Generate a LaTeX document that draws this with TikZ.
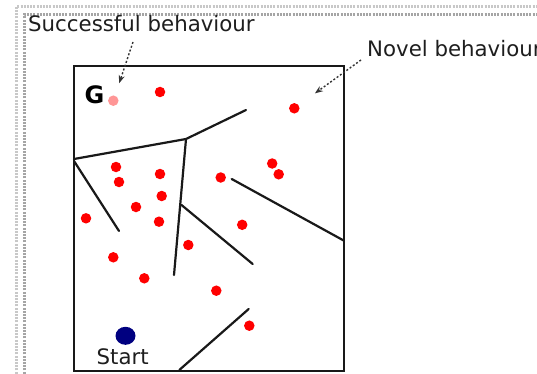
\documentclass[tikz,border=0pt]{standalone}
\usepackage{fontspec}
\setmainfont{DejaVu Sans}
\usetikzlibrary{arrows.meta,shapes.geometric}
\definecolor{dotred}{RGB}{255,0,0}
\definecolor{goalpink}{RGB}{255,150,150}
\definecolor{startblue}{RGB}{0,0,128}
\definecolor{textgray}{RGB}{30,30,30}
\definecolor{frameA}{RGB}{200,200,200}
\definecolor{frameB}{RGB}{165,165,165}
\tikzset{
  wall/.style={line width=2.2pt, black!90, line cap=round},
  reddot/.style={circle, fill=dotred, inner sep=0pt, minimum size=10.5pt},
  goaldot/.style={circle, fill=goalpink, inner sep=0pt, minimum size=10.5pt},
  startdot/.style={ellipse, fill=startblue, inner sep=0pt, minimum width=20pt, minimum height=18pt},
  label/.style={inner sep=0pt, text=textgray, font=\fontsize{21.3}{24}\selectfont},
  pointer/.style={line width=1.4pt, black!80, dash pattern=on 2pt off 2pt, -{Stealth[length=8pt,width=6pt]}},
  frameline/.style={line width=2.4pt, dash pattern=on 2pt off 1.2pt}
}
\begin{document}
\begin{tikzpicture}[x=1pt,y=-1pt]
\useasboundingbox (0,0) rectangle (537,374);
\clip (0,0) rectangle (537,374);
\fill[white] (0,0) rectangle (537,374);
% dotted frames
\draw[frameline, frameA] (16.5,380) -- (16.5,6.5) -- (545,6.5);
\draw[frameline, frameB] (24.5,380) -- (24.5,14.5) -- (545,14.5);
% arena
\draw[wall, line cap=butt] (74,66) rectangle (344,371);
% walls
\coordinate (w1a) at (74,159);
\coordinate (w1b) at (186,139);
\coordinate (w1c) at (246,110);
\coordinate (w2b) at (174,275);
\coordinate (w3a) at (74,161);
\coordinate (w3b) at (119,231);
\coordinate (w4a) at (181.5,205);
\coordinate (w4b) at (252.7,264);
\coordinate (w5a) at (231.7,179);
\coordinate (w5b) at (344,240.7);
\coordinate (w6a) at (179.3,370);
\coordinate (w6b) at (248.7,309);
\draw[wall] (w1a) -- (w1b) -- (w1c);
\draw[wall] (w1b) -- (w2b);
\draw[wall] (w3a) -- (w3b);
\draw[wall] (w4a) -- (w4b);
\draw[wall] (w5a) -- (w5b);
\draw[wall] (w6a) -- (w6b);
% goal
\node[inner sep=0pt, anchor=base west, font=\fontsize{24}{26}\bfseries\selectfont] (glabel) at (84.5,104) {G};
\node[goaldot] (goal) at (113.3,100.7) {};
% red dots
\node[reddot] (r1) at (160,92) {};
\node[reddot] (novel) at (294.3,108.3) {};
\node[reddot] (r3) at (272.2,163.5) {};
\node[reddot] (r4) at (278.7,174.3) {};
\node[reddot] (r5) at (220.7,177.5) {};
\node[reddot] (r6) at (242.2,224.8) {};
\node[reddot] (r7) at (188.3,245) {};
\node[reddot] (r8) at (116,167) {};
\node[reddot] (r9) at (119,182) {};
\node[reddot] (r10) at (160,174) {};
\node[reddot] (r11) at (161.7,196) {};
\node[reddot] (r12) at (136,207) {};
\node[reddot] (r13) at (86,218.3) {};
\node[reddot] (r14) at (159,221.7) {};
\node[reddot] (r15) at (113.3,257.3) {};
\node[reddot] (r16) at (144.3,278.3) {};
\node[reddot] (r17) at (216.3,290.7) {};
\node[reddot] (r18) at (249.3,325.7) {};
% start
\node[startdot] (start) at (125.5,335.8) {};
\node[label, anchor=base] (starttxt) at (122.7,364) {Start};
% labels and pointers
\node[label, anchor=base west] (succ) at (28,32) {Successful behaviour};
\node[label, anchor=base west] (novtxt) at (367,56.7) {Novel behaviour};
\coordinate (sa) at (133,42);
\coordinate (na) at (361,60);
\draw[pointer, shorten >=13pt] (sa) -- (goal);
\draw[pointer, shorten >=20pt] (na) -- (novel);
\end{tikzpicture}
\end{document}
